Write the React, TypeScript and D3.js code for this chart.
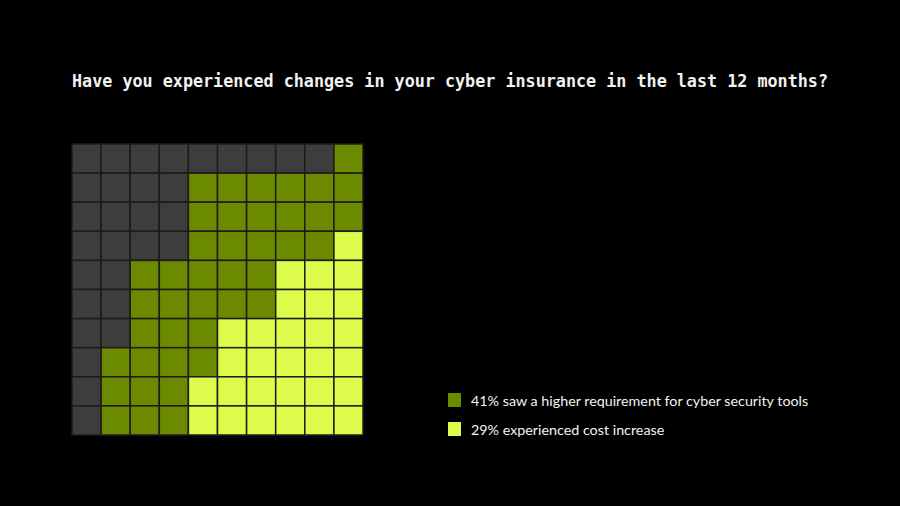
import React from "react";
import * as d3 from "d3";

// waffle layout, one string per row, top to bottom: g = other, o = tools, y = cost
const gridRows = [
  "gggggggggo",
  "ggggoooooo",
  "ggggoooooo",
  "ggggoooooy",
  "ggoooooyyy",
  "ggoooooyyy",
  "ggoooyyyyy",
  "gooooyyyyy",
  "goooyyyyyy",
  "goooyyyyyy",
];

const categories = ["o", "y", "g"];
const categoryColors = ["#6b8a00", "#dcfb4a", "#3d3d3d"];
const legendLabels = [
  "41% saw a higher requirement for cyber security tools",
  "29% experienced cost increase",
];
const title = "Have you experienced changes in your cyber insurance in the last 12 months?";

const W = 900;
const H = 506;

export default function App() {
  const cols = d3.range(10);
  const x = d3.scaleBand<number>().domain(cols).range([72, 363]).padding(0);
  const y = d3.scaleBand<number>().domain(cols).range([144, 435]).padding(0);
  const color = d3.scaleOrdinal<string, string>().domain(categories).range(categoryColors);

  const cells = gridRows.flatMap((row, r) =>
    row.split("").map((c, ci) => ({ r, c: ci, cat: c }))
  );

  return (
    <div style={{ position: "absolute", left: 0, top: 0 }}>
      <svg width={W} height={H} style={{ display: "block", background: "#000" }}>
        <rect x={0} y={0} width={W} height={H} fill="#000" />
        <text
          x={72}
          y={87}
          fill="#f2f2f2"
          fontFamily="'DejaVu Sans Mono', monospace"
          fontWeight="bold"
          fontSize={16.8}
          textLength={756}
          lengthAdjust="spacingAndGlyphs"
        >
          {title}
        </text>
        <g>
          {cells.map((d, i) => (
            <rect
              key={i}
              x={x(d.c)}
              y={y(d.r)}
              width={x.bandwidth()}
              height={y.bandwidth()}
              fill={color(d.cat)}
              stroke="#1c1c1c"
              strokeWidth={1.5}
            />
          ))}
        </g>
        <g>
          {legendLabels.map((label, i) => (
            <g key={i} transform={`translate(448, ${393 + i * 29})`}>
              <rect width={13} height={14} fill={categoryColors[i]} />
              <text
                x={23}
                y={12.5}
                fill="#f2f2f2"
                fontFamily="Lato, 'Open Sans', sans-serif"
                fontSize={14.3}
              >
                {label}
              </text>
            </g>
          ))}
        </g>
      </svg>
    </div>
  );
}
